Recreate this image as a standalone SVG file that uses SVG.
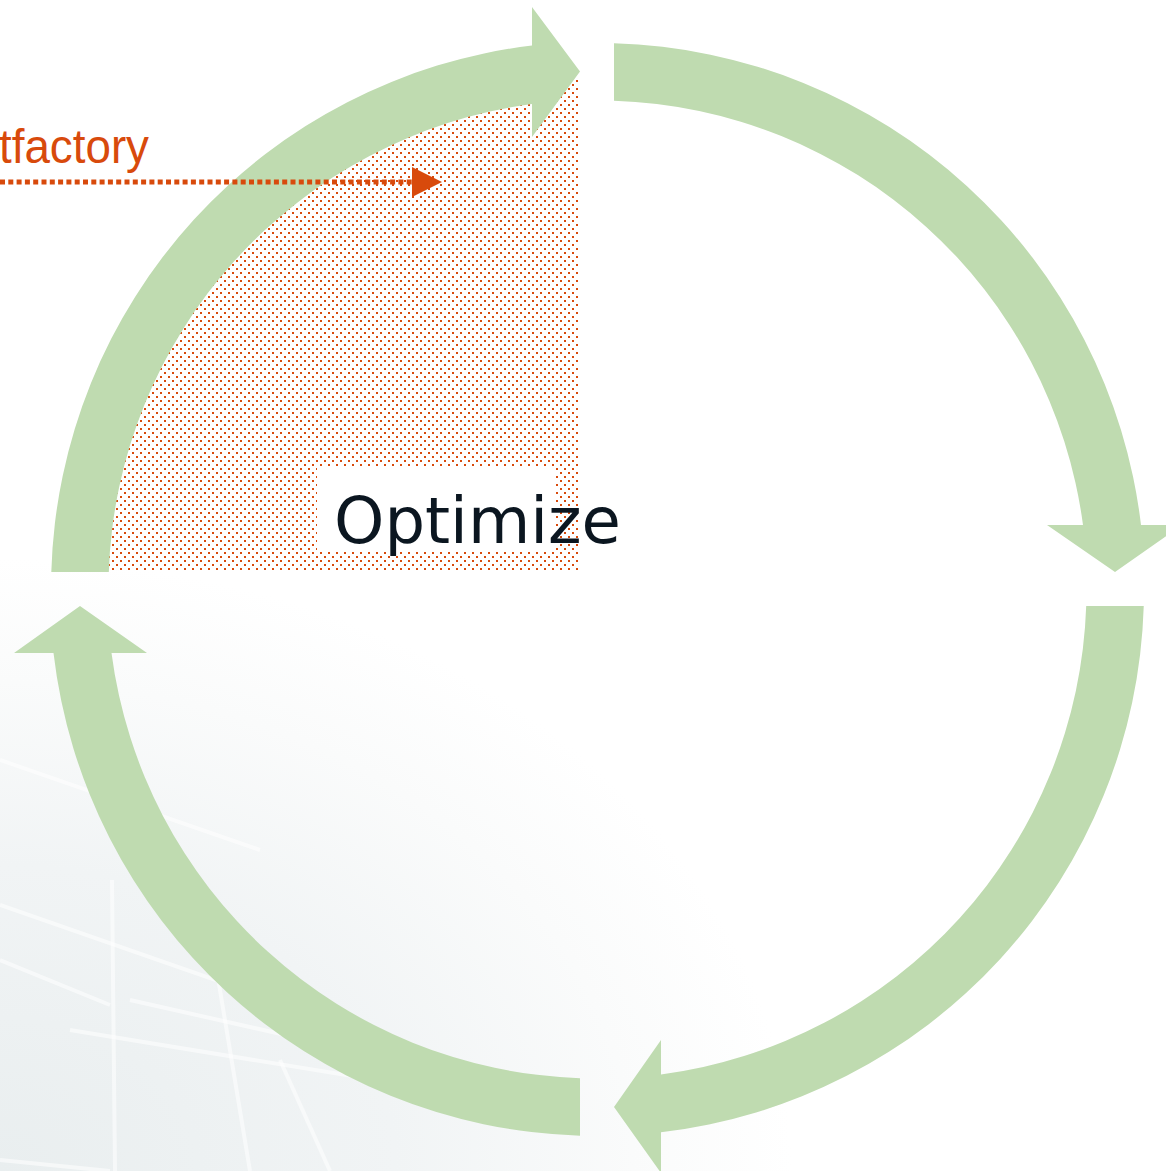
<svg xmlns="http://www.w3.org/2000/svg" width="1166" height="1171" viewBox="0 0 1166 1171">
<defs>
<style>
.arc{fill:#bfdbb0;}
.lbl{font-family:"Liberation Sans",Arial,sans-serif;font-size:48px;fill:#d84a0c;}
.title{font-family:"DejaVu Sans",Verdana,sans-serif;font-size:64px;fill:#0b1620;}
.bgl{stroke:#ffffff;stroke-width:4;fill:none;opacity:0.55;}
</style>
<pattern id="dots" width="8" height="8" patternUnits="userSpaceOnUse">
<rect x="0" y="0" width="2" height="2" fill="#d84a0c"/>
<rect x="4" y="4" width="2" height="2" fill="#d84a0c"/>
</pattern>
<radialGradient id="bg" cx="0" cy="1171" r="720" gradientUnits="userSpaceOnUse" gradientTransform="translate(0 1171) scale(1.1 0.85) translate(0 -1171)">
<stop offset="0" stop-color="#e9eeef"/>
<stop offset="0.5" stop-color="#f1f4f5"/>
<stop offset="0.8" stop-color="#fafbfb"/>
<stop offset="1" stop-color="#ffffff"/>
</radialGradient>
</defs>
<rect width="1166" height="1171" fill="#ffffff"/>
<rect width="1166" height="1171" fill="url(#bg)"/>
<g id="background">
<path class="bgl" d="M0 760 L260 850"/>
<path class="bgl" d="M0 905 L330 1020"/>
<path class="bgl" d="M0 960 L110 1005"/>
<path class="bgl" d="M70 1030 L560 1110"/>
<path class="bgl" d="M0 1160 L110 1171"/>
<path class="bgl" d="M112 880 L115 1171"/>
<path class="bgl" d="M215 960 L250 1171"/>
<path class="bgl" d="M280 1060 L330 1171"/>
<path class="bgl" d="M130 1000 L330 1045 L330 1065"/>
</g>
<g id="sector">
<path d="M578 570 L578 74.9 A515 515 0 0 0 82.9 570 Z" fill="url(#dots)"/>
<rect x="317" y="468" width="237" height="84" fill="#ffffff"/>
</g>
<g id="arcs">
<path id="arc-top-left" class="arc" d="M51.3 572 A546.5 546.5 0 0 1 532 45.5 L532 7 L580 71.5 L532 137 L532 104 A489 489 0 0 0 108.8 572 Z"/>
<path id="arc-top-right" class="arc" d="M614 43.25 A546.5 546.5 0 0 1 1141 525 L1182 525 L1115 572 L1047 525 L1083 525 A489 489 0 0 0 614 100.8 Z"/>
<path id="arc-bottom-right" class="arc" d="M1143.75 606 A546.5 546.5 0 0 1 661 1132.3 L661 1173 L614 1107 L661 1040 L661 1074.4 A489 489 0 0 0 1086.2 606 Z"/>
<path id="arc-bottom-left" class="arc" d="M580 1135.7 A546.5 546.5 0 0 1 53.5 653 L14 653 L80 606 L147 653 L111.5 653 A489 489 0 0 0 580 1078.2 Z"/>
</g>
<g id="node-optimize">
<text class="title" x="334" y="543">Optimize</text>
</g>
<g id="node-artifactory">
<text class="lbl" x="-1" y="163" textLength="150" lengthAdjust="spacingAndGlyphs">tfactory</text>
</g>
<g id="connectors">
<line x1="0" y1="182" x2="412" y2="182" stroke="#d84a0c" stroke-width="5" stroke-dasharray="5 3.3"/>
<path d="M412 167 L442 182 L412 197 Z" fill="#d84a0c"/>
</g>
</svg>
